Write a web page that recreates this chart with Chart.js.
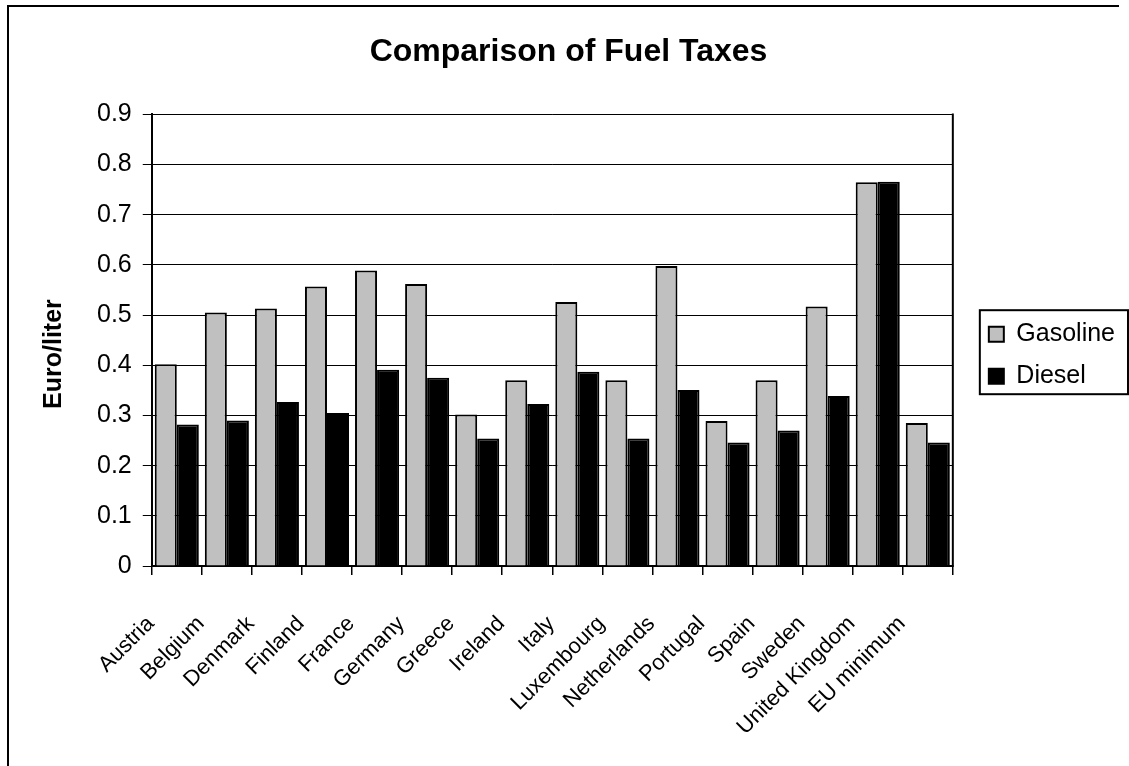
<!DOCTYPE html>
<html>
<head>
<meta charset="utf-8">
<title>Comparison of Fuel Taxes</title>
<script src="https://cdn.jsdelivr.net/npm/chart.js@4/dist/chart.umd.min.js"></script>
<style>
    html, body { margin: 0; padding: 0; background: #fff; }
    #wrap { width: 1129px; height: 766px; position: relative; }
</style>
</head>
<body>
<div id="wrap"><canvas id="fuelChart"></canvas></div>
<script>
// ============================================
// DATA
// ============================================
const countries = ['Austria', 'Belgium', 'Denmark', 'Finland', 'France', 'Germany', 'Greece', 'Ireland',
    'Italy', 'Luxembourg', 'Netherlands', 'Portugal', 'Spain', 'Sweden', 'United Kingdom', 'EU minimum'];
const gasoline = [0.402, 0.505, 0.513, 0.557, 0.589, 0.562, 0.302, 0.370, 0.526, 0.370, 0.598, 0.289, 0.370, 0.517, 0.765, 0.285];
const diesel = [0.282, 0.290, 0.327, 0.305, 0.391, 0.375, 0.254, 0.323, 0.387, 0.254, 0.351, 0.246, 0.270, 0.339, 0.766, 0.246];
const yTicks = [0, 0.1, 0.2, 0.3, 0.4, 0.5, 0.6, 0.7, 0.8, 0.9];

const FONT = 'Arial, "Liberation Sans", Helvetica, sans-serif';

document.addEventListener('DOMContentLoaded', () => {
    // 1. Frame, plot border and legend box
    const framePlugin = {
        id: 'frame',
        afterDraw(chart) {
            const ctx = chart.ctx;
            const area = chart.chartArea;
            ctx.save();
            ctx.strokeStyle = '#000';

            // outer chart frame (top + left only, rest is cropped)
            ctx.lineWidth = 2;
            ctx.beginPath();
            ctx.moveTo(8, 766);
            ctx.lineTo(8, 6);
            ctx.lineTo(1119, 6);
            ctx.stroke();

            // right side of the plot area
            ctx.beginPath();
            ctx.moveTo(area.right, area.top - 1);
            ctx.lineTo(area.right, area.bottom + 1);
            ctx.stroke();

            // box around the legend
            const boxes = chart.legend && chart.legend.legendHitBoxes;
            if (boxes && boxes.length) {
                const first = boxes[0];
                const last = boxes[boxes.length - 1];
                const x = first.left - 9;
                const y = first.top - 11.5;
                const w = 1128 - x;
                const h = last.top + last.height + 5.5 - y;
                ctx.lineWidth = 2;
                ctx.strokeRect(x, y, w, h);
            }
            ctx.restore();
        }
    };

    // 2. Chart
    const ctx = document.getElementById('fuelChart').getContext('2d');
    new Chart(ctx, {
        type: 'bar',
        data: {
            labels: countries,
            datasets: [{
                label: 'Gasoline',
                data: gasoline,
                backgroundColor: '#c0c0c0',
                borderColor: '#000',
                borderWidth: 2,
                borderSkipped: 'bottom'
            }, {
                label: 'Diesel',
                data: diesel,
                backgroundColor: '#000',
                borderColor: '#000',
                borderWidth: 2,
                borderSkipped: 'bottom'
            }]
        },
        options: {
            responsive: true,
            maintainAspectRatio: false,
            animation: false,
            datasets: {
                bar: { categoryPercentage: 0.88, barPercentage: 1.0 }
            },
            layout: {
                padding: { top: 8, left: 12, right: 4, bottom: 0 }
            },
            scales: {
                x: {
                    offset: true,
                    grid: {
                        display: true,
                        drawOnChartArea: false,
                        drawTicks: true,
                        tickLength: 9,
                        offset: true,
                        color: '#000',
                        lineWidth: 1.5
                    },
                    border: { display: true, color: '#000', width: 2 },
                    ticks: {
                        color: '#000',
                        font: { family: FONT, size: 22 },
                        autoSkip: false,
                        minRotation: 45,
                        maxRotation: 45,
                        padding: 36,
                        labelOffset: -26
                    },
                    afterFit(scale) { scale.height = 200; }
                },
                y: {
                    min: 0,
                    max: 0.9,
                    afterBuildTicks(scale) {
                        scale.ticks = yTicks.map(v => ({ value: v }));
                    },
                    grid: {
                        color: '#000',
                        lineWidth: 1,
                        drawTicks: true,
                        tickLength: 9
                    },
                    border: { display: true, color: '#000', width: 2 },
                    ticks: {
                        color: '#000',
                        font: { family: FONT, size: 25 },
                        padding: 11,
                        callback: (v) => String(+Number(v).toFixed(1))
                    },
                    title: {
                        display: true,
                        // trailing spaces nudge the rotated title a bit lower, as in the original
                        text: 'Euro/liter    ',
                        color: '#000',
                        font: { family: FONT, size: 25, weight: 'bold' },
                        padding: { top: 27, bottom: 17 }
                    }
                },
                // empty spacer between plot and legend
                gap: {
                    type: 'linear',
                    position: 'right',
                    display: true,
                    grid: { display: false, drawTicks: false },
                    border: { display: false },
                    ticks: { display: false },
                    afterFit(scale) { scale.width = 19; }
                }
            },
            plugins: {
                title: {
                    display: true,
                    text: 'Comparison of Fuel Taxes',
                    color: '#000',
                    font: { family: FONT, size: 32, weight: 'bold' },
                    padding: { top: 25, bottom: 43 }
                },
                legend: {
                    position: 'right',
                    fullSize: false,
                    title: {
                        display: true,
                        text: ' ',
                        padding: 0,
                        font: { family: FONT, size: 25 }
                    },
                    labels: {
                        color: '#000',
                        font: { family: FONT, size: 25 },
                        boxWidth: 15,
                        boxHeight: 15,
                        padding: 17
                    }
                },
                tooltip: { enabled: false }
            }
        },
        plugins: [framePlugin]
    });
});
</script>
</body>
</html>
